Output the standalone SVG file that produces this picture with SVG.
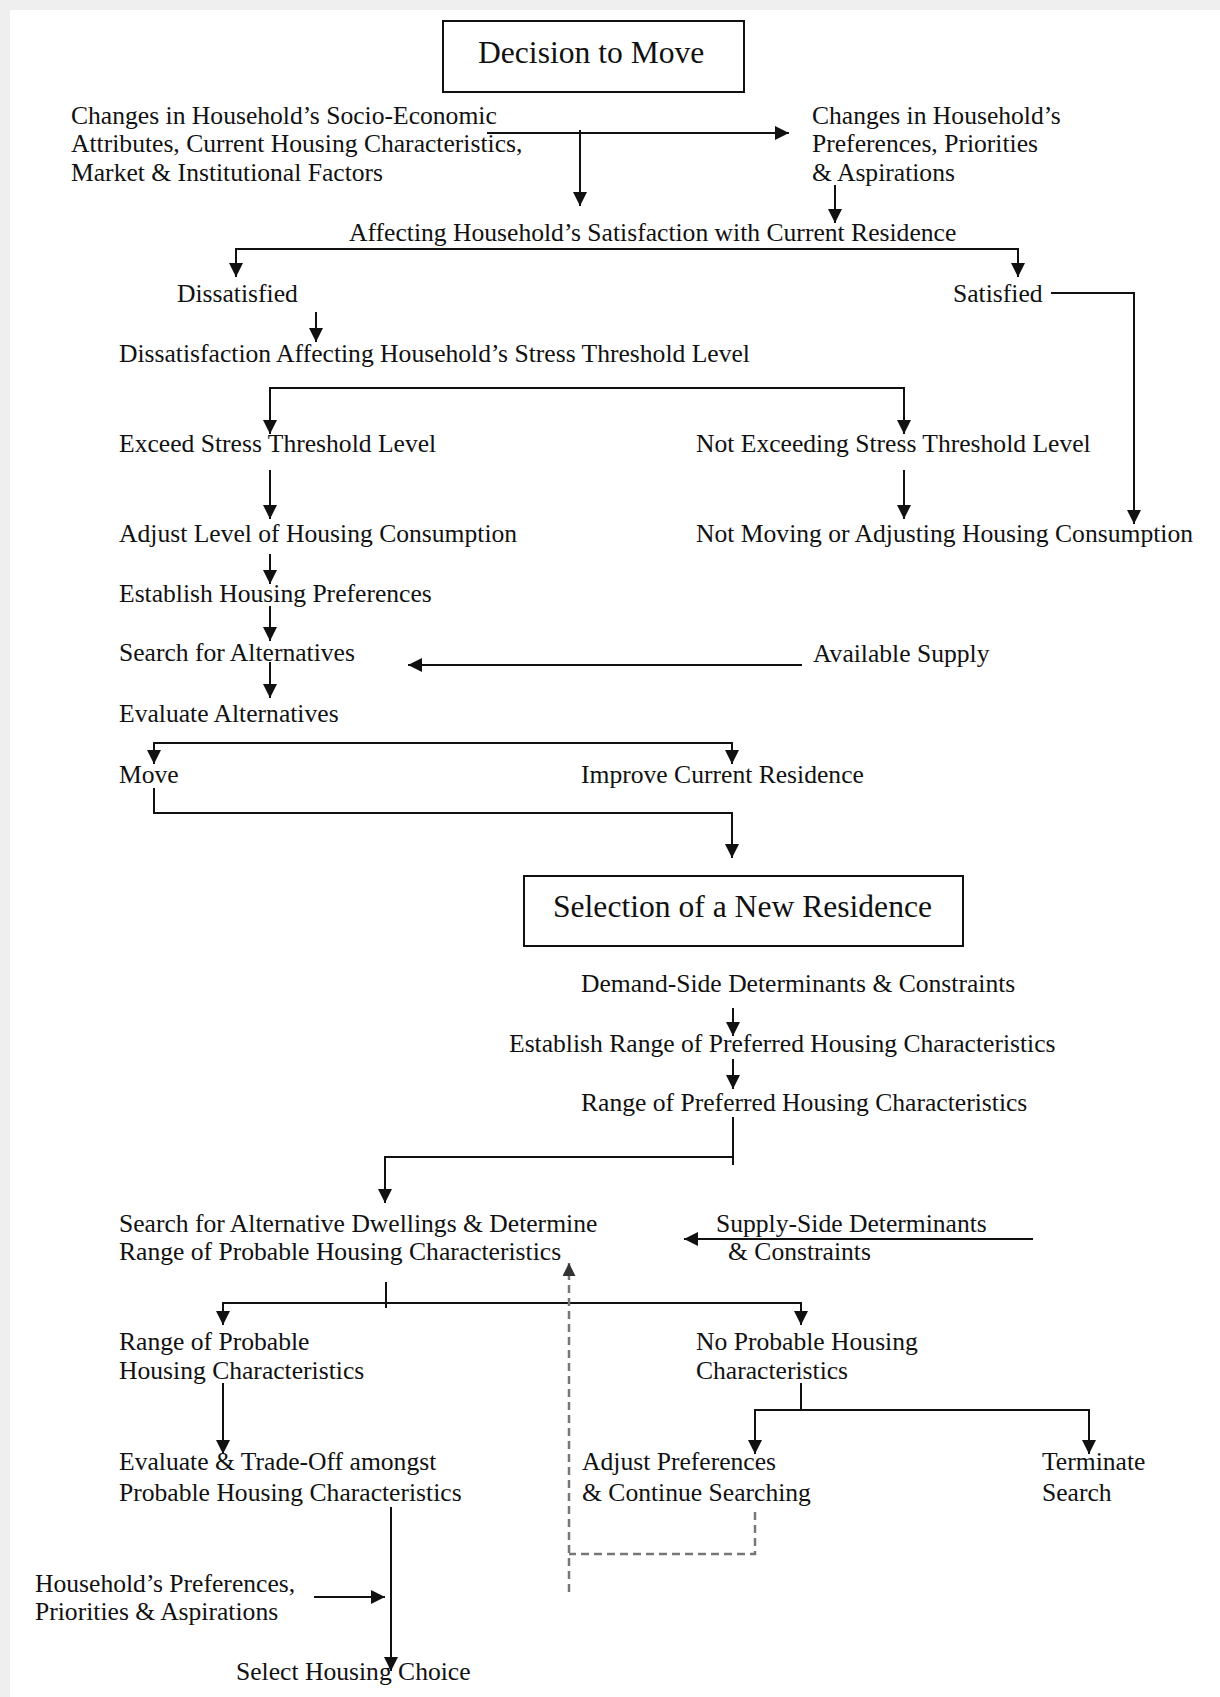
<svg xmlns="http://www.w3.org/2000/svg" width="1220" height="1697" viewBox="0 0 1220 1697">
<defs>
<style>
text{font-family:"Liberation Serif","Times New Roman",serif;font-size:25.6px;fill:#111}
.h{font-size:31.6px}
.c{fill:none;stroke:#111;stroke-width:2}
.a{marker-end:url(#ah)}
.d{fill:none;stroke:#777;stroke-width:2.5;stroke-dasharray:8 5}
.box{fill:#fff;stroke:#111;stroke-width:2}
</style>
<marker id="ah" viewBox="0 0 10 10" refX="10" refY="5" markerWidth="16" markerHeight="14" markerUnits="userSpaceOnUse" orient="auto"><path d="M0,0 L10,5 L0,10 z" fill="#111"/></marker>
<marker id="ahg" viewBox="0 0 10 10" refX="10" refY="5" markerWidth="16" markerHeight="13" markerUnits="userSpaceOnUse" orient="auto"><path d="M0,0 L10,5 L0,10 z" fill="#333"/></marker>
</defs>
<rect x="0" y="0" width="1220" height="1697" fill="#efefef"/>
<rect x="10" y="10" width="1210" height="1687" fill="#fff"/>

<g id="connectors">
<line class="c a" x1="487" y1="133" x2="789" y2="133"/>
<line class="c a" x1="580" y1="130" x2="580" y2="206"/>
<line class="c a" x1="835" y1="185" x2="835" y2="223"/>
<line class="c" x1="236" y1="249" x2="1018" y2="249"/>
<line class="c a" x1="236" y1="248" x2="236" y2="277"/>
<line class="c a" x1="1018" y1="248" x2="1018" y2="277"/>
<path class="c a" d="M1051,293 H1134 V524"/>
<line class="c a" x1="316" y1="312" x2="316" y2="342"/>
<line class="c" x1="270" y1="388" x2="904" y2="388"/>
<line class="c a" x1="270" y1="387" x2="270" y2="434"/>
<line class="c a" x1="904" y1="387" x2="904" y2="434"/>
<line class="c a" x1="270" y1="470" x2="270" y2="519"/>
<line class="c a" x1="904" y1="470" x2="904" y2="519"/>
<line class="c a" x1="270" y1="554" x2="270" y2="584"/>
<line class="c a" x1="270" y1="606" x2="270" y2="641"/>
<line class="c a" x1="270" y1="662" x2="270" y2="698"/>
<line class="c a" x1="802" y1="665" x2="408" y2="665"/>
<line class="c" x1="154" y1="743" x2="732" y2="743"/>
<line class="c a" x1="154" y1="742" x2="154" y2="764"/>
<line class="c a" x1="732" y1="742" x2="732" y2="764"/>
<path class="c a" d="M154,788 V813 H732 V858"/>
<line class="c a" x1="733" y1="1008" x2="733" y2="1036"/>
<line class="c a" x1="733" y1="1059" x2="733" y2="1089"/>
<line class="c" x1="733" y1="1117" x2="733" y2="1165"/>
<path class="c a" d="M733,1157 H385 V1203"/>
<line class="c a" x1="1033" y1="1239" x2="684" y2="1239"/>
<line class="c" x1="386" y1="1282" x2="386" y2="1308"/>
<line class="c" x1="223" y1="1303" x2="801" y2="1303"/>
<line class="c a" x1="223" y1="1302" x2="223" y2="1325"/>
<line class="c a" x1="801" y1="1302" x2="801" y2="1325"/>
<line class="c a" x1="223" y1="1383" x2="223" y2="1454"/>
<line class="c" x1="801" y1="1383" x2="801" y2="1410"/>
<line class="c" x1="755" y1="1410" x2="1089" y2="1410"/>
<line class="c a" x1="755" y1="1409" x2="755" y2="1454"/>
<line class="c a" x1="1089" y1="1409" x2="1089" y2="1454"/>
<path class="d" d="M755,1512 V1554 H569"/>
<line class="d" x1="569" y1="1592" x2="569" y2="1263" style="marker-end:url(#ahg)"/>
<line class="c a" x1="391" y1="1507" x2="391" y2="1671"/>
<line class="c a" x1="314" y1="1597" x2="385" y2="1597"/>
</g>

<g id="decision-to-move"><rect class="box" x="443" y="21" width="301" height="71"/><text class="h" x="478" y="63">Decision to Move</text></g>
<g id="socio-economic"><text x="71" y="124">Changes in Household’s Socio-Economic</text><text x="71" y="152">Attributes, Current Housing Characteristics,</text><text x="71" y="181">Market &amp; Institutional Factors</text></g>
<g id="preferences-changes"><text x="812" y="124">Changes in Household’s</text><text x="812" y="152">Preferences, Priorities</text><text x="812" y="181">&amp; Aspirations</text></g>
<g id="satisfaction"><text x="349" y="241">Affecting Household’s Satisfaction with Current Residence</text></g>
<g id="dissatisfied"><text x="177" y="302">Dissatisfied</text></g>
<g id="satisfied"><text x="953" y="302">Satisfied</text></g>
<g id="stress"><text x="119" y="362">Dissatisfaction Affecting Household’s Stress Threshold Level</text></g>
<g id="exceed"><text x="119" y="452">Exceed Stress Threshold Level</text></g>
<g id="not-exceed"><text x="696" y="452">Not Exceeding Stress Threshold Level</text></g>
<g id="adjust-level"><text x="119" y="542">Adjust Level of Housing Consumption</text></g>
<g id="not-moving"><text x="696" y="542">Not Moving or Adjusting Housing Consumption</text></g>
<g id="establish-prefs"><text x="119" y="602">Establish Housing Preferences</text></g>
<g id="search"><text x="119" y="661">Search for Alternatives</text></g>
<g id="available-supply"><text x="813" y="662">Available Supply</text></g>
<g id="evaluate"><text x="119" y="722">Evaluate Alternatives</text></g>
<g id="move"><text x="119" y="783">Move</text></g>
<g id="improve"><text x="581" y="783">Improve Current Residence</text></g>
<g id="selection"><rect class="box" x="524" y="876" width="439" height="70"/><text class="h" x="553" y="917">Selection of a New Residence</text></g>
<g id="demand-side"><text x="581" y="992">Demand-Side Determinants &amp; Constraints</text></g>
<g id="establish-range"><text x="509" y="1052">Establish Range of Preferred Housing Characteristics</text></g>
<g id="range-preferred"><text x="581" y="1111">Range of Preferred Housing Characteristics</text></g>
<g id="search-dwellings"><text x="119" y="1232">Search for Alternative Dwellings &amp; Determine</text><text x="119" y="1260">Range of Probable Housing Characteristics</text></g>
<g id="supply-side"><text x="716" y="1232">Supply-Side Determinants</text><text x="728" y="1260">&amp; Constraints</text></g>
<g id="range-probable"><text x="119" y="1350">Range of Probable</text><text x="119" y="1379">Housing Characteristics</text></g>
<g id="no-probable"><text x="696" y="1350">No Probable Housing</text><text x="696" y="1379">Characteristics</text></g>
<g id="trade-off"><text x="119" y="1470">Evaluate &amp; Trade-Off amongst</text><text x="119" y="1501">Probable Housing Characteristics</text></g>
<g id="adjust-prefs"><text x="582" y="1470">Adjust Preferences</text><text x="582" y="1501">&amp; Continue Searching</text></g>
<g id="terminate"><text x="1042" y="1470">Terminate</text><text x="1042" y="1501">Search</text></g>
<g id="household-prefs"><text x="35" y="1592">Household’s Preferences,</text><text x="35" y="1620">Priorities &amp; Aspirations</text></g>
<g id="select-choice"><text x="236" y="1680">Select Housing Choice</text></g>
</svg>
